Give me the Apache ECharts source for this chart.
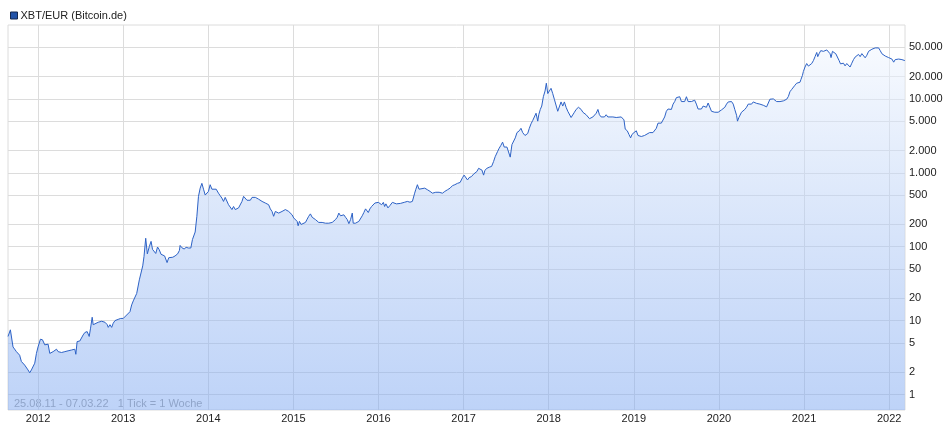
<!DOCTYPE html>
<html>
<head>
<meta charset="utf-8">
<script src="https://cdn.jsdelivr.net/npm/echarts@6/dist/echarts.min.js"></script>
<style>
html,body{margin:0;padding:0;background:#fff;}
#chart{width:950px;height:426px;}
</style>
</head>
<body>
<div id="chart"></div>
<script>
// time as decimal year (weekly ticks, 25.08.11 - 07.03.22)
const years = [
2011.647,2011.675,2011.706,2011.726,2011.746,2011.764,2011.784,2011.804,2011.823,2011.843,2011.863,2011.882,2011.902,2011.922,2011.941,2011.961,2011.981,
2012.000,2012.028,2012.052,2012.079,2012.099,2012.118,2012.138,2012.158,2012.177,2012.197,2012.217,2012.236,2012.256,2012.276,2012.295,2012.315,2012.335,2012.353,2012.373,2012.393,2012.412,2012.432,2012.444,2012.459,2012.491,2012.511,2012.530,2012.550,2012.577,2012.601,2012.617,2012.636,2012.648,2012.668,2012.707,2012.747,2012.786,2012.813,2012.825,2012.845,2012.865,2012.883,2012.904,2012.942,2012.971,
2013.001,2013.021,2013.041,2013.060,2013.080,2013.100,2013.119,2013.159,2013.190,2013.206,2013.230,2013.245,2013.265,2013.284,2013.308,2013.328,2013.345,2013.363,2013.383,2013.404,2013.424,2013.445,2013.465,2013.487,2013.501,2013.516,2013.536,2013.555,2013.583,2013.610,2013.640,2013.661,2013.669,2013.689,2013.716,2013.740,2013.767,2013.795,2013.814,2013.846,2013.866,2013.885,2013.905,2013.925,2013.944,2013.964,2013.984,
2014.002,2014.022,2014.043,2014.061,2014.093,2014.120,2014.140,2014.160,2014.179,2014.199,2014.219,2014.238,2014.258,2014.278,2014.297,2014.317,2014.337,2014.356,2014.376,2014.396,2014.415,2014.435,2014.455,2014.474,2014.494,2014.514,2014.533,2014.553,2014.573,2014.591,2014.611,2014.632,2014.650,2014.670,2014.690,2014.709,2014.729,2014.749,2014.768,2014.788,2014.808,2014.827,2014.847,2014.867,2014.886,2014.906,2014.926,2014.945,2014.965,2014.985,
2015.004,2015.024,2015.044,2015.056,2015.071,2015.091,2015.114,2015.142,2015.162,2015.180,2015.200,2015.221,2015.239,2015.259,2015.279,2015.298,2015.318,2015.338,2015.357,2015.377,2015.397,2015.416,2015.436,2015.456,2015.475,2015.495,2015.515,2015.534,2015.554,2015.574,2015.593,2015.613,2015.633,2015.652,2015.672,2015.692,2015.703,2015.730,2015.750,2015.769,2015.789,2015.809,2015.828,2015.848,2015.868,2015.880,2015.899,2015.919,2015.939,2015.958,2015.978,2015.998,
2016.017,2016.037,2016.057,2016.072,2016.087,2016.111,2016.134,2016.163,2016.182,2016.210,2016.233,2016.257,2016.280,2016.308,2016.339,2016.370,2016.398,2016.425,2016.437,2016.457,2016.476,2016.488,2016.543,2016.575,2016.606,2016.634,2016.653,2016.673,2016.712,2016.752,2016.779,2016.811,2016.841,2016.869,2016.897,2016.928,2016.959,2016.987,
2017.006,2017.026,2017.046,2017.065,2017.093,2017.117,2017.156,2017.176,2017.195,2017.215,2017.235,2017.250,2017.274,2017.301,2017.329,2017.352,2017.371,2017.400,2017.418,2017.438,2017.458,2017.477,2017.509,2017.524,2017.548,2017.568,2017.588,2017.607,2017.627,2017.654,2017.674,2017.694,2017.721,2017.736,2017.753,2017.772,2017.792,2017.812,2017.831,2017.851,2017.871,2017.883,2017.901,2017.918,2017.937,2017.957,2017.972,2017.989,
2018.007,2018.027,2018.047,2018.066,2018.086,2018.106,2018.125,2018.145,2018.165,2018.184,2018.204,2018.224,2018.243,2018.263,2018.283,2018.302,2018.322,2018.349,2018.381,2018.401,2018.420,2018.440,2018.460,2018.479,2018.499,2018.519,2018.537,2018.558,2018.578,2018.596,2018.616,2018.636,2018.655,2018.675,2018.695,2018.714,2018.754,2018.793,2018.813,2018.852,2018.872,2018.884,2018.899,2018.923,2018.943,2018.962,2018.978,
2019.002,2019.029,2019.049,2019.067,2019.088,2019.108,2019.126,2019.146,2019.185,2019.225,2019.244,2019.264,2019.284,2019.303,2019.323,2019.343,2019.362,2019.382,2019.402,2019.421,2019.441,2019.461,2019.480,2019.500,2019.520,2019.539,2019.559,2019.579,2019.597,2019.618,2019.638,2019.656,2019.676,2019.697,2019.715,2019.735,2019.755,2019.774,2019.794,2019.814,2019.833,2019.853,2019.873,2019.892,2019.912,2019.932,2019.951,2019.971,2019.991,
2020.010,2020.030,2020.050,2020.069,2020.089,2020.109,2020.128,2020.148,2020.168,2020.186,2020.207,2020.218,2020.234,2020.250,2020.265,2020.285,2020.304,2020.324,2020.344,2020.363,2020.383,2020.403,2020.422,2020.442,2020.462,2020.481,2020.501,2020.521,2020.540,2020.560,2020.580,2020.599,2020.619,2020.639,2020.658,2020.678,2020.698,2020.717,2020.737,2020.757,2020.776,2020.796,2020.816,2020.834,2020.854,2020.875,2020.893,2020.913,2020.933,2020.952,2020.964,2020.981,2020.992,
2021.011,2021.031,2021.051,2021.070,2021.090,2021.110,2021.129,2021.149,2021.161,2021.176,2021.196,2021.228,2021.247,2021.267,2021.287,2021.306,2021.317,2021.334,2021.353,2021.373,2021.393,2021.412,2021.428,2021.443,2021.463,2021.482,2021.502,2021.522,2021.541,2021.561,2021.581,2021.600,2021.620,2021.640,2021.659,2021.679,2021.699,2021.718,2021.738,2021.758,2021.777,2021.797,2021.817,2021.836,2021.856,2021.876,2021.895,2021.915,2021.935,2021.954,2021.974,2021.994,
2022.012,2022.032,2022.053,2022.071,2022.091,2022.111,2022.130,2022.150,2022.170,2022.184
];
// XBT/EUR closing values (EUR)
const prices = [
6.1,7.5,4.4,4.2,3.8,4.0,3.4,2.8,2.87,2.5,2.5,2.15,1.97,2.15,2.26,2.65,3.6,
4.4,5.6,5.5,4.7,4.8,4.8,3.6,3.5,3.8,4.0,4.1,3.8,3.8,3.7,3.9,3.8,3.9,3.9,3.8,4.0,3.9,4.1,3.5,5.2,5.3,5.5,6.4,6.9,7.1,6.1,7.9,11.1,8.8,9.1,9.5,9.8,9.5,8.8,8.1,8.8,8.1,9.2,10,10.4,10.7,
10.7,11.3,11.9,12.3,13.2,16.3,18.5,23.3,35.6,36.4,55,73.7,130,80,101,118,92,87,81,99,91,79,81,75,71,61,71,68,72,75,80,89,104,97,93,98,96,96,125,158,258,480,620,720,600,500,500,
560,690,600,620,600,530,490,455,410,465,440,370,350,318,350,318,325,335,350,410,480,490,425,440,425,465,490,465,455,440,440,410,390,390,370,370,325,300,258,300,318,285,290,300,310,318,310,300,285,270,
245,233,220,192,220,200,205,213,236,258,278,250,236,233,228,213,208,213,220,208,213,208,205,213,220,233,250,285,262,258,270,250,233,205,233,285,208,208,213,220,233,262,290,325,335,290,325,350,370,390,410,398,
405,370,398,350,380,335,360,398,390,380,390,385,390,400,410,400,410,530,590,690,600,590,620,590,560,530,520,545,545,530,560,590,620,670,690,720,740,860,
930,890,800,860,890,960,1040,1150,1190,1090,930,1080,1150,1190,1220,1420,1650,1950,2150,2350,2600,2230,2230,2150,1630,2410,2480,2970,3500,3700,4000,3500,3200,3150,3400,4000,4600,5100,5400,6400,5000,6100,7200,8000,10700,12800,16300,11800,
12800,13900,11800,9900,10000,6800,6800,9100,8000,9100,7700,6800,6600,5600,5700,6600,7200,7700,7200,6600,6400,6100,6000,5400,5600,5700,5600,6400,7200,6100,5700,5700,5700,6100,5700,5700,5700,5600,5700,5700,5700,5200,3900,3700,3300,2970,3300,
3500,3700,3200,3250,3100,2970,3200,3300,3500,3500,3500,4000,4700,4800,4700,5000,5700,6800,7300,7600,7200,8500,9200,10400,9900,10700,9200,9500,9200,10700,9200,9400,9200,9200,9600,8500,7300,7500,7300,8000,8500,7700,8800,9100,6800,7000,6600,6800,6600,
7000,7100,7200,7700,8500,9100,9200,9200,8500,7200,6000,5000,5600,5300,6600,6600,7200,7700,8500,8300,8500,9100,8600,8700,8500,8500,8000,8200,8000,7800,8800,9900,10000,10000,9900,9200,9400,9200,9200,9400,9400,9900,10800,12500,13400,14200,15300,16300,15800,16800,18400,20800,23500,
27000,30100,27800,27500,30100,33000,37300,42500,37300,40800,45000,44000,45000,46000,44000,40800,36200,44000,44000,40800,39000,33000,29800,31400,30400,28000,30100,29000,27000,30400,34000,36800,39000,40000,37300,41000,39000,36000,39000,44000,46000,47000,47000,49000,51000,49000,45000,40800,40800,38000,39000,36200,
36200,34600,31400,34000,33000,34600,33000,34000,32500,33000
];
const yearTicks = [2012,2013,2014,2015,2016,2017,2018,2019,2020,2021,2022];
const priceTicks = [1,2,5,10,20,50,100,200,500,1000,2000,5000,10000,20000,50000];
const seriesName = 'XBT/EUR (Bitcoin.de)';
const footnote = '25.08.11 - 07.03.22   1 Tick = 1 Woche';

const data = years.map((t, i) => [t, prices[i]]);
const fmtDE = v => String(v).replace(/\B(?=(\d{3})+(?!\d))/g, '.');
const FONT = '"Liberation Sans", Arial, sans-serif';

const chart = echarts.init(document.getElementById('chart'), null, {renderer: 'canvas'});
chart.setOption({
  animation: false,
  backgroundColor: '#ffffff',
  textStyle: {fontFamily: FONT},
  legend: {
    data: [seriesName],
    left: 10, top: 10,
    padding: 0,
    icon: 'rect',
    itemWidth: 7, itemHeight: 7,
    itemGap: 10,
    itemStyle: {color: '#2152a8', borderColor: '#142850', borderWidth: 1},
    textStyle: {fontSize: 11, color: '#222', fontFamily: FONT, padding: [0, 0, 0, -2]}
  },
  grid: {
    left: 8, right: 45, top: 25, bottom: 16,
    show: true, borderColor: '#dcdcdc', borderWidth: 1, containLabel: false
  },
  xAxis: {
    type: 'value',
    min: 2011.647, max: 2022.186,
    axisLine: {show: false},
    axisTick: {show: false, customValues: yearTicks},
    axisLabel: {
      customValues: yearTicks,
      formatter: v => String(Math.round(v)),
      fontSize: 11, color: '#222', margin: 3, fontFamily: FONT
    },
    splitLine: {show: true, lineStyle: {color: '#dcdcdc', width: 1}}
  },
  yAxis: {
    type: 'log',
    position: 'right',
    min: 0.617, max: 100000,
    axisLine: {show: false},
    axisTick: {show: false, customValues: priceTicks},
    axisLabel: {
      customValues: priceTicks,
      formatter: v => fmtDE(Math.round(v)),
      fontSize: 11, color: '#222', margin: 4, fontFamily: FONT
    },
    splitLine: {show: true, lineStyle: {color: '#dcdcdc', width: 1}}
  },
  series: [{
    name: seriesName,
    type: 'line',
    data: data,
    symbol: 'none',
    showSymbol: false,
    lineStyle: {color: '#2d62c6', width: 1},
    itemStyle: {color: '#2d62c6'},
    areaStyle: {
      origin: 'start',
      opacity: 1,
      color: {
        type: 'linear', global: true,
        x: 0, y: 25, x2: 0, y2: 410,
        colorStops: [
          {offset: 0, color: 'rgba(248,251,255,0.55)'},
          {offset: 0.55, color: 'rgba(175,201,245,0.5)'},
          {offset: 1, color: 'rgba(125,167,241,0.5)'}
        ]
      }
    }
  }],
  graphic: [{
    type: 'text',
    left: 14, top: 398,
    silent: true,
    style: {text: footnote, fill: '#a0a0a0', font: '11px ' + FONT}
  }]
});
</script>
</body>
</html>
